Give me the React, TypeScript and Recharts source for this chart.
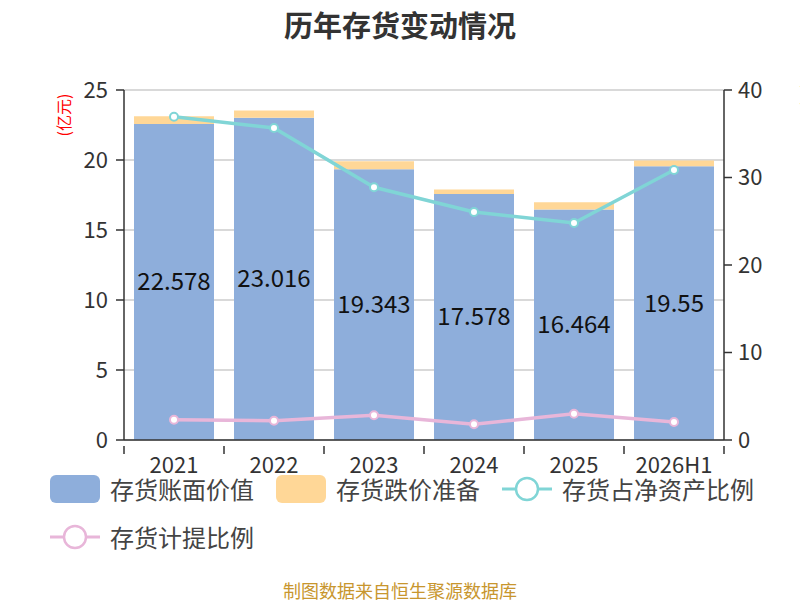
import React from 'react';
import {
  Bar,
  CartesianGrid,
  ComposedChart,
  LabelList,
  Line,
  XAxis,
  YAxis,
} from 'recharts';

const categories = ['2021', '2022', '2023', '2024', '2025', '2026H1'];
const bookValue = [22.578, 23.016, 19.343, 17.578, 16.464, 19.55];
const provision = [0.54, 0.52, 0.56, 0.32, 0.51, 0.41];
const netAssetRatio = [36.95, 35.66, 28.88, 26.06, 24.8, 30.86];
const provisionRatio = [2.32, 2.21, 2.82, 1.79, 3.0, 2.06];
const leftTicks = [0, 5, 10, 15, 20, 25];
const rightTicks = [0, 10, 20, 30, 40];

const FONT = '"Noto Sans CJK SC", "Noto Sans", sans-serif';
const BLUE = '#8eaedb';
const ORANGE = '#ffd797';
const TEAL = '#80d5d6';
const PINK = '#e8b6d9';
const X_MARGIN = 11;

const data = categories.map((name, i) => ({
  name,
  book: bookValue[i],
  provision: provision[i],
  netRatio: netAssetRatio[i],
  provRatio: provisionRatio[i],
}));

// x-axis labels, with tick marks sitting on the category boundaries
const XTick = (props: any) => {
  const { x, y, payload, index } = props;
  const half = 50;
  const top = y - X_MARGIN;
  return (
    <g>
      <line x1={x - half} y1={top} x2={x - half} y2={top + 8} stroke="#333" strokeWidth={1.5} />
      {index === categories.length - 1 && (
        <line x1={x + half} y1={top} x2={x + half} y2={top + 8} stroke="#333" strokeWidth={1.5} />
      )}
      <text x={x} y={y} dy="0.72em" textAnchor="middle" fill="#333" fontSize={22} fontFamily={FONT}>
        {payload.value}
      </text>
    </g>
  );
};

const LegendItem = ({ kind, color, label }: { kind: 'box' | 'line'; color: string; label: string }) => (
  <div style={{ display: 'flex', alignItems: 'center', marginRight: 22, height: 28 }}>
    {kind === 'box' ? (
      <div style={{ width: 50, height: 28, borderRadius: 6, background: color }} />
    ) : (
      <svg width={50} height={28}>
        <line x1={0} y1={14} x2={50} y2={14} stroke={color} strokeWidth={3} />
        <circle cx={25} cy={14} r={11} fill="#fff" stroke={color} strokeWidth={2.5} />
      </svg>
    )}
    <span style={{ marginLeft: 10, fontSize: 24, lineHeight: '28px', color: '#444', whiteSpace: 'nowrap' }}>{label}</span>
  </div>
);

export default function App() {
  return (
    <div style={{ position: 'absolute', left: 0, top: 0, width: 800, height: 600, background: '#fff', fontFamily: FONT, overflow: 'hidden' }}>
      <div style={{ position: 'absolute', top: 8, width: 800, textAlign: 'center', fontSize: 29, lineHeight: '32px', fontWeight: 'bold', color: '#333' }}>
        历年存货变动情况
      </div>
      <div style={{ position: 'absolute', left: 63, top: 115, transform: 'translate(-50%, -50%) rotate(-90deg)', fontSize: 16, color: '#f00', whiteSpace: 'nowrap' }}>
        (亿元)
      </div>
      <div style={{ position: 'absolute', left: 806, top: 95, transform: 'translate(-50%, -50%) rotate(-90deg)', fontSize: 16, color: '#f00', whiteSpace: 'nowrap' }}>
        (%)
      </div>

      <ComposedChart
        width={800}
        height={600}
        data={data}
        margin={{ top: 90, right: 26, bottom: 130, left: 74 }}
        barCategoryGap="10%"
      >
        <CartesianGrid yAxisId="left" vertical={false} stroke="#ccc" strokeWidth={1.5} />
        <XAxis
          dataKey="name"
          height={30}
          tickLine={false}
          tickMargin={X_MARGIN}
          axisLine={{ stroke: '#333', strokeWidth: 1.5 }}
          tick={<XTick />}
          interval={0}
        />
        <YAxis
          yAxisId="left"
          width={50}
          domain={[0, 25]}
          ticks={leftTicks}
          tickSize={8}
          tickMargin={8}
          axisLine={{ stroke: '#333', strokeWidth: 1.5 }}
          tickLine={{ stroke: '#333', strokeWidth: 1.5 }}
          tick={{ fill: '#333', fontSize: 22, fontFamily: FONT }}
        />
        <YAxis
          yAxisId="right"
          orientation="right"
          width={50}
          domain={[0, 40]}
          ticks={rightTicks}
          tickSize={8}
          tickMargin={6}
          axisLine={{ stroke: '#333', strokeWidth: 1.5 }}
          tickLine={{ stroke: '#333', strokeWidth: 1.5 }}
          tick={{ fill: '#333', fontSize: 22, fontFamily: FONT, textAnchor: 'start' }}
        />
        <Bar yAxisId="left" dataKey="book" stackId="a" fill={BLUE} isAnimationActive={false}>
          <LabelList dataKey="book" position="center" fill="#111" fontSize={24} fontFamily={FONT} />
        </Bar>
        <Bar yAxisId="left" dataKey="provision" stackId="a" fill={ORANGE} isAnimationActive={false} />
        <Line
          yAxisId="right"
          dataKey="netRatio"
          stroke={TEAL}
          strokeWidth={3.5}
          dot={{ r: 4, fill: '#fff', stroke: TEAL, strokeWidth: 2 }}
          isAnimationActive={false}
        />
        <Line
          yAxisId="right"
          dataKey="provRatio"
          stroke={PINK}
          strokeWidth={3.5}
          dot={{ r: 4, fill: '#fff', stroke: PINK, strokeWidth: 2 }}
          isAnimationActive={false}
        />
      </ComposedChart>

      <div style={{ position: 'absolute', left: 50, top: 475, display: 'flex', flexWrap: 'wrap', width: 745, rowGap: 20 }}>
        <LegendItem kind="box" color={BLUE} label="存货账面价值" />
        <LegendItem kind="box" color={ORANGE} label="存货跌价准备" />
        <LegendItem kind="line" color={TEAL} label="存货占净资产比例" />
        <LegendItem kind="line" color={PINK} label="存货计提比例" />
      </div>

      <div style={{ position: 'absolute', top: 581, width: 800, textAlign: 'center', fontSize: 18, lineHeight: '19px', color: '#c8962e' }}>
        制图数据来自恒生聚源数据库
      </div>
    </div>
  );
}
